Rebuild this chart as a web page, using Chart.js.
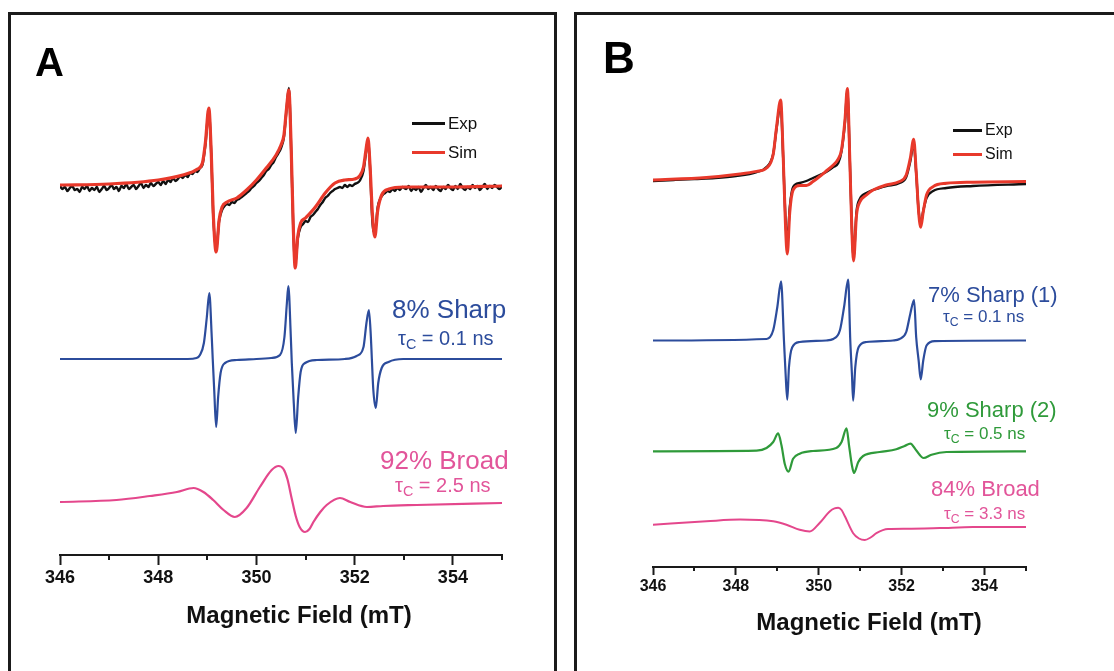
<!DOCTYPE html>
<html>
<head>
<meta charset="utf-8">
<title>EPR spectra</title>
<script src="https://cdn.jsdelivr.net/npm/chart.js@4.4.1/dist/chart.umd.min.js"></script>
<style>
  body { margin: 0; background: #fff; width: 1114px; height: 671px; overflow: hidden; position: relative;
         font-family: Arial, "Liberation Sans", Helvetica, sans-serif; }
  .frame { position: absolute; border: 3px solid #1b1b1b; box-sizing: border-box; }
  #frameA { left: 8px; top: 12px; width: 549px; height: 720px; }
  #frameB { left: 574px; top: 12px; width: 600px; height: 720px; }
  canvas { position: absolute; }
  #chartA { left: 9px; top: 13px; }
  #chartB { left: 576px; top: 13px; }
  .t { position: absolute; white-space: nowrap; line-height: 1; }
  .t sub { font-size: 0.72em; vertical-align: -0.3em; line-height: 0; }
  .panel { font-weight: bold; color: #000; }
  .axt { font-weight: bold; color: #111; font-size: 24px; transform: translateX(-50%); }
  .key { position: absolute; height: 3px; }
  .blue { color: #2c4c9c; }
  .green { color: #2f9a3a; }
  .pink { color: #e2559a; }
</style>
</head>
<body>
<div class="frame" id="frameA"></div>
<div class="frame" id="frameB"></div>
<canvas id="chartA" width="546" height="658"></canvas>
<canvas id="chartB" width="538" height="658"></canvas>

<div class="t panel" style="left:35px;top:42px;font-size:40px;">A</div>
<div class="t panel" style="left:603px;top:36px;font-size:44px;">B</div>

<!-- panel A keys and labels -->
<div class="key" style="left:412px;top:122px;width:33px;background:#111;"></div>
<div class="t" style="left:448px;top:115px;font-size:17px;color:#111;">Exp</div>
<div class="key" style="left:412px;top:151px;width:33px;background:#e8392b;"></div>
<div class="t" style="left:448px;top:144px;font-size:17px;color:#111;">Sim</div>
<div class="t blue" style="left:392px;top:296px;font-size:26px;">8% Sharp</div>
<div class="t blue" style="left:398px;top:328px;font-size:20px;">τ<sub>C</sub> = 0.1 ns</div>
<div class="t pink" style="left:380px;top:447px;font-size:26px;">92% Broad</div>
<div class="t pink" style="left:395px;top:475px;font-size:20px;">τ<sub>C</sub> = 2.5 ns</div>
<div class="t axt" style="left:299px;top:603px;">Magnetic Field (mT)</div>

<!-- panel B keys and labels -->
<div class="key" style="left:953px;top:129px;width:29px;background:#111;"></div>
<div class="t" style="left:985px;top:122px;font-size:16px;color:#111;">Exp</div>
<div class="key" style="left:953px;top:153px;width:29px;background:#e8392b;"></div>
<div class="t" style="left:985px;top:146px;font-size:16px;color:#111;">Sim</div>
<div class="t blue" style="left:928px;top:284px;font-size:22px;">7% Sharp (1)</div>
<div class="t blue" style="left:943px;top:308px;font-size:17px;">τ<sub>C</sub> = 0.1 ns</div>
<div class="t green" style="left:927px;top:399px;font-size:22px;">9% Sharp (2)</div>
<div class="t green" style="left:944px;top:425px;font-size:17px;">τ<sub>C</sub> = 0.5 ns</div>
<div class="t pink" style="left:931px;top:478px;font-size:22px;">84% Broad</div>
<div class="t pink" style="left:944px;top:505px;font-size:17px;">τ<sub>C</sub> = 3.3 ns</div>
<div class="t axt" style="left:869px;top:610px;">Magnetic Field (mT)</div>

<script>
// field axis (mT)
var majorTicks = [346, 348, 350, 352, 354];
var minorTicks = [347, 349, 351, 353, 355];

// ---- Panel A (signals in a.u., traces stacked) ----
var aSimField = [346.0, 347.0, 348.0, 348.5, 348.8, 348.9, 348.96, 349.03, 349.08, 349.12, 349.18, 349.24, 349.3, 349.4, 349.6, 349.8,
  350.0, 350.2, 350.4, 350.5, 350.56, 350.61, 350.66, 350.71, 350.75, 350.79, 350.84, 350.9, 351.0, 351.2, 351.4, 351.6, 351.8,
  352.0, 352.1, 352.18, 352.23, 352.27, 352.31, 352.36, 352.41, 352.47, 352.55, 352.7, 353.0, 354.0, 355.0];
var aSimSignal = [370, 371, 375, 380, 386, 392, 412, 447, 402, 342, 303, 335, 348, 353, 357, 365,
  375, 387, 400, 410, 420, 445, 465, 402, 328, 287, 318, 332, 337, 348, 362, 372, 375,
  376, 379, 388, 405, 417, 392, 342, 318, 345, 360, 366, 368, 368, 369];

var aExpField = [346.00, 346.05, 346.10, 346.15, 346.20, 346.25, 346.30, 346.35, 346.40, 346.45, 346.50, 346.55, 346.60, 346.65, 346.70, 346.75, 346.80, 346.85, 346.90, 346.95,
  347.00, 347.05, 347.10, 347.15, 347.20, 347.25, 347.30, 347.35, 347.40, 347.45, 347.50, 347.55, 347.60, 347.65, 347.70, 347.75, 347.80, 347.85, 347.90, 347.95,
  348.00, 348.05, 348.10, 348.15, 348.20, 348.25, 348.30, 348.35, 348.40, 348.45, 348.50, 348.55, 348.60, 348.65, 348.70, 348.75, 348.80, 348.85,
  348.90, 348.96, 349.03, 349.08, 349.12, 349.18, 349.24, 349.30, 349.35, 349.40, 349.45, 349.50, 349.55, 349.60, 349.65, 349.70, 349.75, 349.80, 349.85, 349.90, 349.95,
  350.00, 350.05, 350.10, 350.15, 350.20, 350.25, 350.30, 350.35, 350.40, 350.45, 350.50, 350.56, 350.61, 350.66, 350.71, 350.75, 350.79, 350.84, 350.90, 350.95,
  351.00, 351.05, 351.10, 351.15, 351.20, 351.25, 351.30, 351.35, 351.40, 351.45, 351.50, 351.55, 351.60, 351.65, 351.70, 351.75, 351.80, 351.85, 351.90, 351.95,
  352.00, 352.05, 352.10, 352.18, 352.23, 352.27, 352.31, 352.36, 352.41, 352.47, 352.52, 352.57, 352.62, 352.67, 352.72, 352.77, 352.82, 352.87, 352.92, 352.97,
  353.05, 353.10, 353.15, 353.20, 353.25, 353.30, 353.35, 353.40, 353.45, 353.50, 353.55, 353.60, 353.65, 353.70, 353.75, 353.80, 353.85, 353.90, 353.95, 354.00,
  354.05, 354.10, 354.15, 354.20, 354.25, 354.30, 354.35, 354.40, 354.45, 354.50, 354.55, 354.60, 354.65, 354.70, 354.75, 354.80, 354.85, 354.90, 354.95, 355.00];
var aExpSignal = [369, 366, 368, 364, 367, 369, 365, 366, 363, 368, 366, 369, 364, 367, 365, 368, 363, 366, 369, 365,
  367, 370, 366, 368, 364, 369, 367, 371, 366, 368, 370, 366, 369, 372, 367, 370, 368, 372, 369, 371,
  373, 370, 374, 371, 375, 373, 377, 374, 376, 379, 377, 380, 378, 382, 381, 384, 383, 387,
  390, 410, 444, 400, 340, 305, 334, 345, 349, 351, 350, 353, 352, 355, 356, 358, 360, 362, 364, 367, 369,
  372, 374, 377, 380, 384, 386, 390, 393, 398, 402, 407, 418, 444, 467, 400, 326, 290, 316, 328, 331,
  334, 333, 338, 340, 343, 346, 350, 353, 357, 359, 362, 364, 366, 367, 368, 367, 370, 368, 370, 369,
  371, 372, 374, 384, 402, 415, 390, 334, 322, 348, 356, 360, 362, 364, 363, 366, 364, 367, 365, 368,
  366, 369, 364, 367, 365, 368, 363, 367, 370, 366, 368, 365, 369, 366, 364, 368, 366, 370, 367, 365,
  369, 366, 371, 367, 365, 368, 366, 370, 367, 369, 365, 368, 371, 366, 369, 367, 370, 368, 366, 369];

var aSharpField = [346.0, 348.0, 348.6, 348.78, 348.85, 348.93, 348.99, 349.04, 349.09, 349.11, 349.14, 349.18, 349.22, 349.27, 349.36, 349.6,
  350.0, 350.3, 350.48, 350.57, 350.62, 350.65, 350.70, 350.72, 350.76, 350.80, 350.85, 350.90, 350.99, 351.23, 351.8,
  352.04, 352.18, 352.24, 352.29, 352.33, 352.35, 352.38, 352.43, 352.48, 352.55, 352.69, 352.99, 355.0];
var aSharpSignal = [196, 196, 196, 197, 200, 212, 238, 262, 218, 196, 165, 128, 158, 182, 192, 195,
  196, 197, 200, 218, 252, 269, 218, 192, 152, 122, 158, 183, 192, 195, 196,
  199, 208, 232, 245, 218, 196, 165, 147, 172, 187, 193, 196, 196];

var aBroadField = [346.0, 347.15, 347.83, 348.38, 348.72, 348.92, 349.12, 349.33, 349.56, 349.80, 350.07, 350.31, 350.45, 350.55,
  350.63, 350.72, 350.80, 350.88, 350.99, 351.08, 351.16, 351.30, 351.43, 351.70, 351.91, 352.25, 352.58, 353.26, 355.0];
var aBroadSignal = [53, 55, 59, 63, 67, 63, 55, 45, 38, 47, 68, 85, 89, 86,
  76, 56, 39, 28, 23, 26, 33, 43, 50, 57, 53, 48, 49, 50, 52];

// ---- Panel B ----
var bSimField = [346.0, 347.29, 348.1, 348.5, 348.74, 348.9, 348.98, 349.08, 349.14, 349.2, 349.24, 349.3, 349.38, 349.54, 349.7, 349.86,
  350.02, 350.18, 350.35, 350.47, 350.55, 350.63, 350.69, 350.75, 350.8, 350.84, 350.91, 350.99, 351.15, 351.31, 351.63, 351.95,
  352.11, 352.21, 352.29, 352.35, 352.41, 352.46, 352.52, 352.6, 352.76, 353.08, 353.72, 355.0];
var bSimSignal = [387, 389.5, 393, 395.6, 399, 412.5, 439.5, 467, 412.5, 338, 313, 355, 377, 381.4, 381.4, 385.4,
  390.5, 396, 402, 408, 417.5, 446, 478.4, 405.7, 334.7, 306, 351.6, 365, 372, 377, 382, 385.4,
  392, 409, 427.7, 395.6, 355, 339.8, 355, 372, 380.4, 383.7, 384.8, 385.4];

var bExpField = [346.0, 346.5, 347.0, 347.5, 348.0, 348.5, 348.74, 348.9, 348.98, 349.08, 349.14, 349.2, 349.24, 349.3, 349.38, 349.54,
  349.7, 349.86, 350.02, 350.18, 350.35, 350.47, 350.55, 350.63, 350.69, 350.75, 350.8, 350.84, 350.91, 350.99, 351.15, 351.31,
  351.63, 351.95, 352.11, 352.21, 352.29, 352.35, 352.41, 352.46, 352.52, 352.6, 352.76, 353.08, 353.72, 355.0];
var bExpSignal = [386, 387, 388, 389, 391, 395, 400, 413, 438, 463, 410, 345, 325, 360, 380, 384,
  386, 389, 392, 395, 400, 404, 416, 444, 476, 405, 338, 310, 355, 368, 374, 377,
  381, 384, 390, 406, 424, 394, 356, 343, 356, 369, 376, 379, 381, 383];

var bSharp1Field = [346.0, 348.74, 348.9, 349.0, 349.09, 349.16, 349.2, 349.24, 349.28, 349.36, 349.54, 350.18, 350.35, 350.51, 350.61, 350.71,
  350.76, 350.8, 350.83, 350.88, 350.96, 351.15, 351.79, 351.95, 352.11, 352.21, 352.3, 352.35, 352.41, 352.46, 352.52, 352.6, 352.8, 355.0];
var bSharp1Signal = [226.5, 228, 236.7, 260, 285.7, 226.5, 192.7, 167.4, 199.5, 219.8, 225, 226.5, 228, 236.7, 260, 287.4,
  226.5, 192.7, 166.4, 199.5, 219.8, 225, 226.5, 228, 235, 253.6, 267, 230, 206.3, 187.7, 206.3, 221.5, 225.9, 226.5];

var bSharp2Field = [346.0, 348.5, 348.74, 348.9, 349.02, 349.1, 349.18, 349.27, 349.38, 349.54, 349.86, 350.42, 350.55, 350.67,
  350.73, 350.8, 350.85, 350.95, 351.07, 351.47, 351.87, 352.07, 352.21, 352.35, 352.53, 352.72, 353.08, 355.0];
var bSharp2Signal = [115.7, 116.3, 119, 125, 133.6, 121.7, 103, 95.4, 108.2, 113.3, 116, 119, 125, 138.6,
  121.7, 101.5, 94, 104.8, 111, 115, 117.7, 121, 123.4, 116.7, 109, 112.3, 115, 115.7];

var bBroadField = [346.0, 347.29, 348.1, 348.9, 349.22, 349.54, 349.78, 350.02, 350.27, 350.38, 350.47, 350.55, 350.63,
  350.83, 350.97, 351.11, 351.25, 351.39, 351.67, 352.11, 352.92, 353.72, 355.0];
var bBroadSignal = [42.3, 45.7, 47.4, 45.7, 42.3, 37.2, 35.5, 44, 55.8, 58.6, 59.2, 57, 50.7,
  33.8, 28.5, 27, 29.5, 33.8, 37.9, 38.2, 38.9, 39.9, 39.9];

var RED = '#e8392b', BLACK = '#111111', BLUE = '#2c4c9c', GREEN = '#2f9a3a', PINK = '#e4478c';

function pts(xs, ys) {
  return xs.map(function (x, i) { return { x: x, y: ys[i] }; });
}

function trace(label, xs, ys, color, width, order) {
  return { label: label, data: pts(xs, ys), borderColor: color, borderWidth: width, order: order, fill: false };
}

// short ticks at the odd fields
var minorTickPlugin = {
  id: 'minorTicks',
  afterDraw: function (chart, args, opts) {
    var xs = chart.scales.x, ctx = chart.ctx, y0 = chart.chartArea.bottom;
    ctx.save();
    ctx.strokeStyle = '#1a1a1a';
    ctx.lineWidth = 2;
    opts.values.forEach(function (v) {
      var px = Math.round(xs.getPixelForValue(v));
      ctx.beginPath();
      ctx.moveTo(px, y0);
      ctx.lineTo(px, y0 + opts.len);
      ctx.stroke();
    });
    ctx.restore();
  }
};

function spectrumChart(id, datasets, s) {
  return new Chart(document.getElementById(id), {
    type: 'line',
    data: { datasets: datasets },
    options: {
      responsive: false,
      animation: false,
      devicePixelRatio: 1,
      layout: { padding: { left: s.left, right: s.right, top: s.top, bottom: 0 } },
      elements: {
        point: { radius: 0 },
        line: { cubicInterpolationMode: 'monotone', borderJoinStyle: 'round', borderCapStyle: 'round' }
      },
      plugins: {
        legend: { display: false },
        tooltip: { enabled: false },
        minorTicks: { values: minorTicks, len: s.minorLen }
      },
      scales: {
        x: {
          type: 'linear', min: 346, max: 355,
          border: { display: true, color: '#1a1a1a', width: 2 },
          grid: { drawOnChartArea: false, drawTicks: true, tickLength: s.tickLen, tickWidth: 2, tickColor: '#1a1a1a' },
          afterBuildTicks: function (sc) { sc.ticks = majorTicks.map(function (v) { return { value: v }; }); },
          ticks: {
            autoSkip: false, maxRotation: 0, padding: 2, color: '#111',
            font: { family: 'Arial, "Liberation Sans", sans-serif', size: s.tickFont, weight: 'bold' }
          },
          afterFit: function (sc) { sc.height = s.axisHeight; }
        },
        y: { display: false, min: 0, max: s.yMax }
      }
    },
    plugins: [minorTickPlugin]
  });
}

spectrumChart('chartA', [
  trace('Sim', aSimField, aSimSignal, RED, 3.2, 0),
  trace('Exp', aExpField, aExpSignal, BLACK, 2.4, 1),
  trace('8% Sharp', aSharpField, aSharpSignal, BLUE, 2.2, 2),
  trace('92% Broad', aBroadField, aBroadSignal, PINK, 2.2, 3)
], { left: 51, right: 53, top: 57, axisHeight: 116, yMax: 485, tickLen: 10, minorLen: 5, tickFont: 18 });

spectrumChart('chartB', [
  trace('Sim', bSimField, bSimSignal, RED, 3, 0),
  trace('Exp', bExpField, bExpSignal, BLACK, 2.4, 1),
  trace('7% Sharp (1)', bSharp1Field, bSharp1Signal, BLUE, 2.2, 2),
  trace('9% Sharp (2)', bSharp2Field, bSharp2Signal, GREEN, 2.2, 3),
  trace('84% Broad', bBroadField, bBroadSignal, PINK, 2, 4)
], { left: 77, right: 88, top: 57, axisHeight: 104, yMax: 497, tickLen: 8, minorLen: 4, tickFont: 16 });
</script>
</body>
</html>
